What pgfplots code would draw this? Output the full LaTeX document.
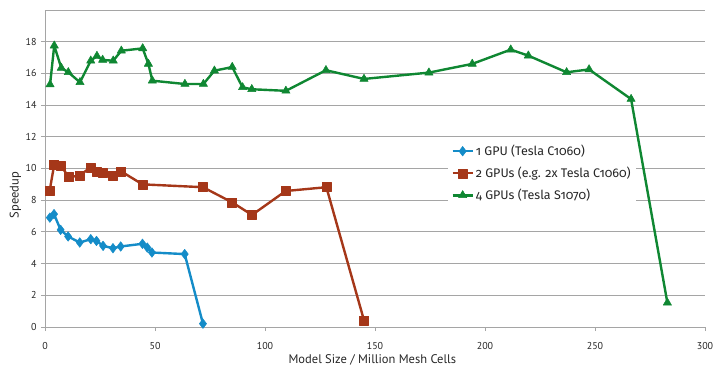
\documentclass[border=0pt]{standalone}
\usepackage{fontspec}
\setmainfont{PT Sans}
\newfontfamily\legfont{Fira Sans}[Numbers=OldStyle]
\usepackage{pgfplots}
\pgfplotsset{compat=1.18}
\definecolor{cblue}{RGB}{20,140,200}
\definecolor{cred}{RGB}{165,55,25}
\definecolor{cgreen}{RGB}{15,135,50}
\definecolor{gridc}{RGB}{165,165,165}
\begin{document}
\begin{tikzpicture}
\useasboundingbox (-45pt,-40pt) rectangle (668pt,327pt);
\begin{axis}[
  at={(0,0)}, anchor=south west,
  scale only axis, width=660pt, height=317pt,
  xmin=0, xmax=300, ymin=0, ymax=20,
  xtick={0,50,...,300}, ytick={0,2,...,18},
  extra y ticks={20}, extra y tick labels={},
  extra y tick style={major tick length=0pt},
  axis x line*=bottom, axis y line*=left,
  axis line style={gridc, line width=0.8pt},
  tick align=outside, major tick length=4pt,
  tick style={gridc, line width=0.8pt},
  ymajorgrids, major grid style={gridc, line width=0.8pt},
  /pgf/number format/assume math mode=true,
  ticklabel style={font=\fontsize{10}{12}\selectfont, text=black!85},
  xticklabel style={yshift=-8pt},
  yticklabel style={xshift=-1pt},
  xlabel={Model Size / Million Mesh Cells},
  ylabel={Speedup},
  label style={font=\fontsize{12.5}{14}\selectfont, text=black!85},
  xlabel style={at={(axis description cs:0.496,-0.103)}, anchor=center},
  ylabel style={at={(axis description cs:-0.045,0.416)}, anchor=center},
  legend style={at={(rel axis cs:0.611,0.59)}, anchor=north west, draw=none, fill=white,
    font=\legfont\fontsize{12.5}{14}\selectfont, text=black!85, row sep=6pt, inner sep=3pt},
  legend cell align=left,
  legend image code/.code={\draw[mark repeat=2,mark phase=2] plot coordinates {(0pt,0pt) (10pt,0pt) (20pt,0pt)};},
  every axis plot/.append style={line width=2.4pt, line join=round},
]
\addplot[cblue, mark=diamond*, mark size=4.8pt, mark options={line width=0.5pt}] coordinates {
(2.2,6.9)(4.1,7.12)(7.1,6.13)(10.5,5.71)(15.8,5.33)(20.8,5.54)(23.4,5.43)(26.4,5.12)(30.9,4.97)(34.4,5.08)(44.3,5.25)(46.5,5.01)(48.6,4.70)(63.5,4.6)(71.8,0.21)
};
\addlegendentry{1 GPU (Tesla C1060)}
\addplot[cred, mark=square*, mark size=4.5pt, mark options={line width=0.5pt}] coordinates {
(2.1,8.58)(4.2,10.26)(7.2,10.18)(10.8,9.46)(15.8,9.55)(20.6,10.07)(23.5,9.8)(26.1,9.76)(31,9.55)(34.6,9.82)(44.3,9.0)(71.8,8.82)(85,7.87)(94.1,7.07)(109.4,8.58)(127.9,8.82)(145,0.42)
};
\addlegendentry{2 GPUs (e.g. 2x Tesla C1060)}
\addplot[cgreen, mark=triangle*, mark size=4.8pt, mark options={line width=0.5pt}] coordinates {
(2.3,15.3)(4.2,17.75)(7.4,16.35)(10.6,16.07)(15.9,15.44)(20.8,16.8)(23.6,17.1)(26.2,16.85)(31.0,16.8)(34.7,17.43)(44.4,17.58)(47.0,16.6)(48.8,15.54)(63.6,15.33)(72.0,15.33)(77.0,16.17)(85.1,16.4)(89.8,15.12)(94.0,15.0)(109.5,14.9)(127.7,16.2)(145,15.65)(174.5,16.05)(194.2,16.6)(211.7,17.5)(219.7,17.12)(237.1,16.07)(247.3,16.25)(266.4,14.38)(282.9,1.53)
};
\addlegendentry{4 GPUs (Tesla S1070)}
\end{axis}
\end{tikzpicture}
\end{document}
